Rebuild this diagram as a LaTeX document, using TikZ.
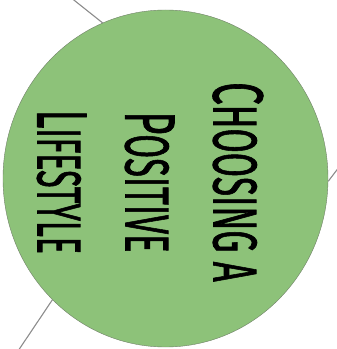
\documentclass[tikz,border=0pt]{standalone}
\usepackage{fontspec}
\setmainfont{Fira Sans}
\newfontfamily\titlefont{Fira Sans}[FakeBold=1.5]
\usepackage{tikz}
\usetikzlibrary{shapes}

\definecolor{hubgreen}{RGB}{141,194,121}
\definecolor{hubedge}{RGB}{112,128,104}
\definecolor{spoke}{RGB}{140,140,140}
\newcommand{\firstcap}[1]{{\fontsize{71}{88}\selectfont #1}}
\newcommand{\squeeze}[2]{\scalebox{#1}[1]{#2}}

\begin{document}
\begin{tikzpicture}[x=1pt, y=1pt, every node/.style={inner sep=0pt}]
\useasboundingbox (0,0) rectangle (337,349);
\node (hub) [draw=hubedge, fill=hubgreen, ellipse, minimum width=325pt, minimum height=337pt] at (165.5,170.5) {};
\node (title) [rotate=-90, align=center, font=\titlefont\fontsize{62}{88}\selectfont] at (150,167)
  {\squeeze{0.565}{\firstcap{C}HOOSING A}\\ \squeeze{0.555}{\firstcap{P}OSITIVE}\\ \squeeze{0.515}{\firstcap{L}IFESTYLE}};

\coordinate (nw) at (60,360);
\coordinate (ea) at (346,191);
\coordinate (sw) at (14,-8);
\draw[spoke, line width=1.1pt] (hub.112.8) -- (nw);
\draw[spoke, line width=1.1pt] (hub.-1.2) -- (ea);
\draw[spoke, line width=1.1pt] (hub.227.1) -- (sw);
\end{tikzpicture}
\end{document}
